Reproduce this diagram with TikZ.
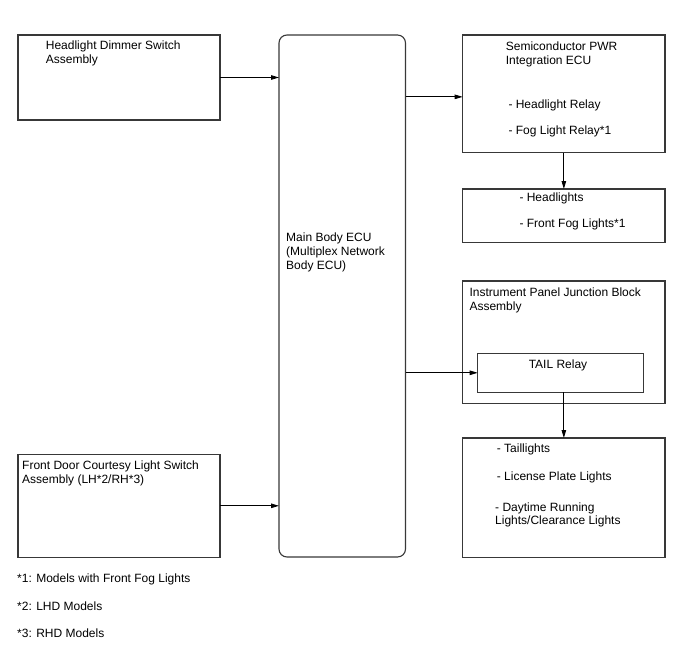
\documentclass[tikz,border=0pt]{standalone}
\usepackage{fontspec}
\setmainfont{Liberation Sans}
\usetikzlibrary{arrows.meta}
\begin{document}
\begin{tikzpicture}[x=1pt,y=-1pt,
  box/.style={draw=black!78, line width=1.1pt, anchor=north west, inner sep=0pt, outer sep=0pt},
  lbl/.style={anchor=west, inner sep=0pt, text height=8.6pt, text depth=0pt, font=\fontsize{12}{14}\selectfont},
  arr/.style={draw=black, line width=0.9pt, -{Triangle[length=8pt,width=4.5pt]}}]
\useasboundingbox (0,0) rectangle (688,658);
% boxes
\node[box, minimum width=202pt, minimum height=85pt] (dim) at (18,35) {};
\node[box, minimum width=126.5pt, minimum height=522pt, rounded corners=8pt] (ecu) at (279,35) {};
\node[box, minimum width=202.3pt, minimum height=117.7pt] (semi) at (462.7,35) {};
\node[box, minimum width=202.3pt, minimum height=53.7pt] (hl) at (462.7,189) {};
\node[box, minimum width=202.3pt, minimum height=122.3pt] (ipjb) at (462.7,281) {};
\node[box, minimum width=165.6pt, minimum height=39pt] (tail) at (477.7,353.3) {};
\node[box, minimum width=202.3pt, minimum height=119.3pt] (tl) at (462.7,438) {};
\node[box, minimum width=202pt, minimum height=103pt] (door) at (18,454.3) {};
% texts
\node[lbl] (t1a) at (45.7,45) {Headlight Dimmer Switch};
\node[lbl] (t1b) at (45.7,59.3) {Assembly};
\node[lbl] (t2a) at (286,237) {Main Body ECU};
\node[lbl] (t2b) at (286,251) {(Multiplex Network};
\node[lbl] (t2c) at (286,265) {Body ECU)};
\node[lbl] (t3a) at (505.7,46) {Semiconductor PWR};
\node[lbl] (t3b) at (505.7,60.7) {Integration ECU};
\node[lbl] (t3c) at (508.3,104) {- Headlight Relay};
\node[lbl] (t3d) at (508.3,130) {- Fog Light Relay*1};
\node[lbl] (t4a) at (519.3,196.7) {- Headlights};
\node[lbl] (t4b) at (519.3,223.3) {- Front Fog Lights*1};
\node[lbl] (t5a) at (469.3,291.7) {Instrument Panel Junction Block};
\node[lbl] (t5b) at (469.3,305.7) {Assembly};
\node[lbl, anchor=center] (t6) at (558,364) {TAIL Relay};
\node[lbl] (t7a) at (496.7,448.3) {- Taillights};
\node[lbl] (t7b) at (496.7,475.7) {- License Plate Lights};
\node[lbl] (t7c) at (495,506.7) {- Daytime Running};
\node[lbl] (t7d) at (495,520) {Lights/Clearance Lights};
\node[lbl] (t8a) at (22,465) {Front Door Courtesy Light Switch};
\node[lbl] (t8b) at (22,479.3) {Assembly (LH*2/RH*3)};
\node[lbl] (f1) at (17,578) {*1: Models with Front Fog Lights};
\node[lbl] (f2) at (17,605.7) {*2: LHD Models};
\node[lbl] (f3) at (17,632.7) {*3: RHD Models};
% connectors
\draw[arr] (dim.east) -- (dim.east -| ecu.west);
\draw[arr] (door.east) -- (door.east -| ecu.west);
\draw[arr] ([yshift=-3pt]semi.west -| ecu.east) -- ([yshift=-3pt]semi.west);
\draw[arr] (tail.west -| ecu.east) -- (tail.west);
\draw[arr] (semi.south) -- (hl.north);
\draw[arr] (tail.south -| tl.north) -- (tl.north);
\end{tikzpicture}
\end{document}
